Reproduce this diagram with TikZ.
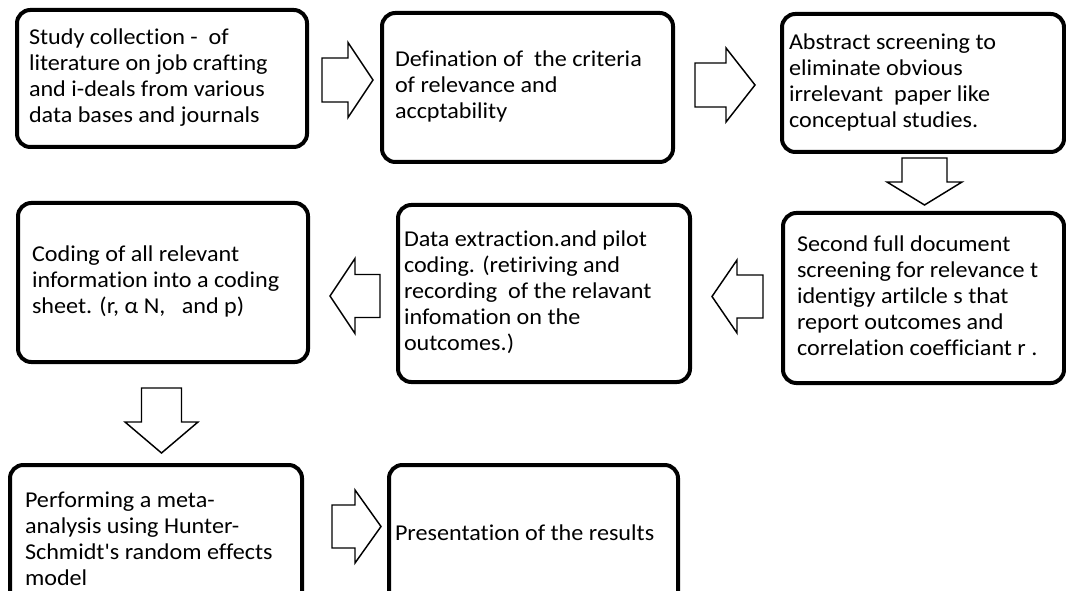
\documentclass[tikz,border=0pt]{standalone}
\usepackage{fontspec}
\setmainfont{Carlito}[FakeStretch=1.065,Ligatures={TeXOff,NoCommon}]
\newcommand\bt[2]{\makebox[\dimexpr #1pt*3/4\relax][l]{\begin{tabular}{@{}l@{}}#2\end{tabular}}}
\newcommand\hblock[6]{\draw[barrow] (#1,{#2-#5}) -- (#3,{#2-#5}) -- (#3,{#2-#6}) -- (#4,#2) -- (#3,{#2+#6}) -- (#3,{#2+#5}) -- (#1,{#2+#5}) -- cycle;}
\newcommand\vblock[6]{\draw[barrow] ({#1-#5},#2) -- ({#1-#5},#3) -- ({#1-#6},#3) -- (#1,#4) -- ({#1+#6},#3) -- ({#1+#5},#3) -- ({#1+#5},#2) -- cycle;}
\tikzset{
  box/.style={draw, line width=3pt, rounded corners=10pt, inner sep=0pt, fill=white,
    font=\fontsize{17pt}{19.5pt}\selectfont},
  bx/.style 2 args={minimum width=#1*0.75pt, minimum height=#2*0.75pt},
  barrow/.style={draw, line width=1.1pt, fill=white, line join=miter},
}
\begin{document}
\begin{tikzpicture}[x=0.75pt,y=-0.75pt]
\useasboundingbox (0,0) rectangle (1066,591);
\clip (0,0) rectangle (1066,591);
\fill[white] (0,0) rectangle (1066,591);
% boxes
\node[box, bx={290}{137}] (s1) at (162,78.5)
  {\bt{266}{Study collection -\ \ of\\ literature on job crafting\\ and i-deals from various\\ data bases and journals}};
\node[box, bx={291}{149}] (s2) at (527.5,87.5)
  {\bt{265}{Defination of\ \ the criteria\\ of relevance and\\ accptability}};
\node[box, bx={282}{138}] (s3) at (923,83)
  {\bt{268}{Abstract screening to\\ eliminate obvious\\ irrelevant\ \ paper like\\ conceptual studies.}};
\node[box, bx={281}{170}] (s4) at (923.5,298)
  {\bt{253}{Second full document\\ screening for relevance t\\ identigy artilcle s that\\ report outcomes and\\ correlation coefficiant r .}};
\node[box, bx={292}{177}] (s5) at (544,293.5)
  {\bt{280}{Data extraction.and pilot\\ coding. (retiriving and\\ recording\ \ of the relavant\\ infomation on the\\ outcomes.)}};
\node[box, bx={290}{159}] (s6) at (163,282.5)
  {\bt{262}{Coding of all relevant\\ information into a coding\\ sheet. (r, α N,\ \ \ and p)}};
\node[box, bx={292}{152}] (s7) at (156,541)
  {\bt{262}{Performing a meta-\\ analysis using Hunter-\\ Schmidt's random effects\\ model}};
\node[box, bx={289}{140}] (s8) at (533.5,535)
  {\bt{277}{Presentation of the results}};
% block arrows
\hblock{322}{80}{348}{373}{22}{37.5}
\hblock{695}{85}{726}{755}{22}{37}
\vblock{924.5}{158}{182}{205}{22.5}{37.5}
\hblock{763}{296.5}{737}{712}{21.5}{36.5}
\hblock{380}{296}{355}{330}{21.5}{37.5}
\vblock{161.5}{388}{422}{453}{20}{36.5}
\hblock{332}{526.5}{355}{381}{21.5}{36.5}
\end{tikzpicture}
\end{document}
